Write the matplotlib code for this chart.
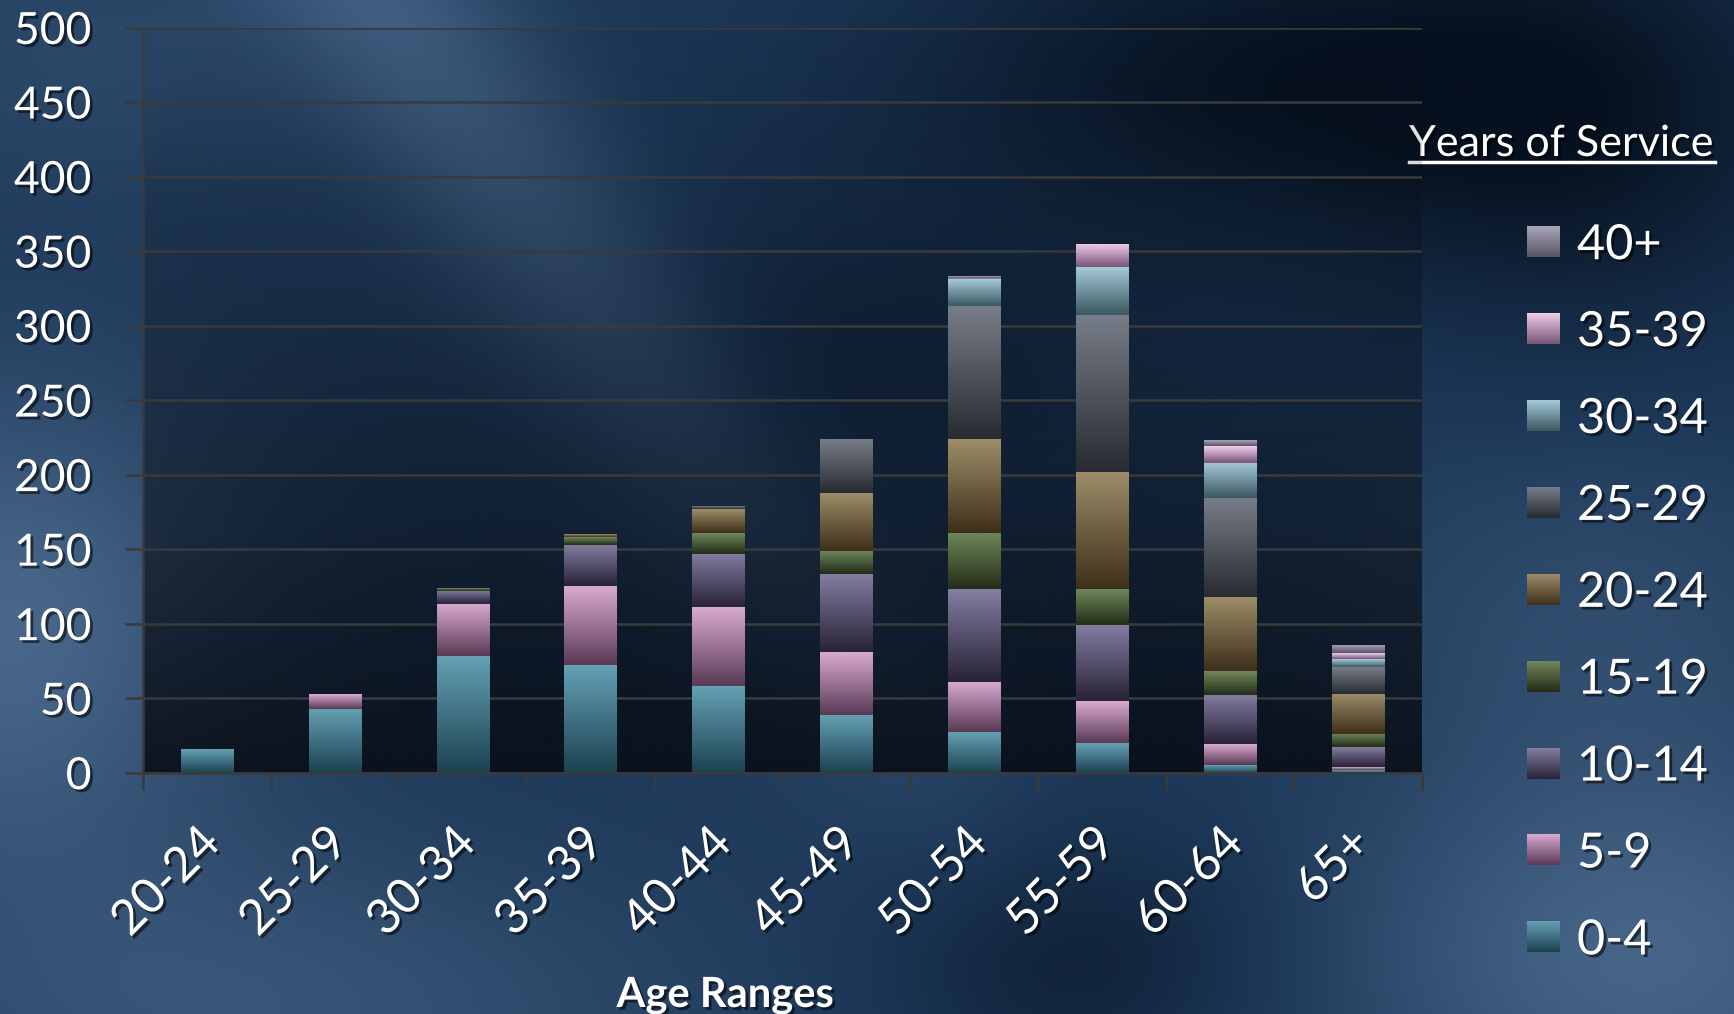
import matplotlib
matplotlib.use("Agg")
import matplotlib.pyplot as plt
import matplotlib.patheffects as pe
import matplotlib.transforms as mtransforms
import numpy as np
from matplotlib.colors import to_rgb

# ---- data -------------------------------------------------------------
age_ranges = ["20-24", "25-29", "30-34", "35-39", "40-44",
              "45-49", "50-54", "55-59", "60-64", "65+"]
service_groups = ["0-4", "5-9", "10-14", "15-19", "20-24",
                  "25-29", "30-34", "35-39", "40+"]

yos_0_4 = [16, 43, 78, 72, 58, 39, 27, 20, 5, 2]
yos_5_9 = [0, 10, 35, 53, 53, 42, 34, 28, 14, 2]
yos_10_14 = [0, 0, 9, 28, 36, 52, 62, 51, 33, 13]
yos_15_19 = [0, 0, 2, 5, 14, 16, 38, 24, 16, 9]
yos_20_24 = [0, 0, 0, 2, 16, 39, 63, 79, 50, 27]
yos_25_29 = [0, 0, 0, 0, 2, 36, 89, 105, 66, 18]
yos_30_34 = [0, 0, 0, 0, 0, 0, 18, 32, 24, 5]
yos_35_39 = [0, 0, 0, 0, 0, 0, 1, 16, 11, 4]
yos_40_plus = [0, 0, 0, 0, 0, 0, 1, 0, 4, 6]

series = [yos_0_4, yos_5_9, yos_10_14, yos_15_19, yos_20_24,
          yos_25_29, yos_30_34, yos_35_39, yos_40_plus]

y_ticks = list(range(0, 501, 50))

# (top colour, bottom colour) of each gradient fill
grad_colors = [
    ("#64a0b3", "#1c4251"),
    ("#d9aad1", "#5a3a55"),
    ("#837da1", "#282336"),
    ("#70875b", "#232d17"),
    ("#9d8d69", "#3e301b"),
    ("#777d88", "#282b31"),
    ("#a4cad8", "#3c5861"),
    ("#f1cdec", "#785676"),
    ("#aaa6ba", "#575565"),
]

FONT = "Lato"
shadow = [pe.SimplePatchShadow(offset=(2, -2), shadow_rgbFace="black",
                               alpha=0.55), pe.Normal()]


def gradient(top, bottom, n=64):
    t = np.linspace(0, 1, n)[:, None]
    c0 = np.array(to_rgb(top))
    c1 = np.array(to_rgb(bottom))
    return (c0 * (1 - t) + c1 * t).reshape(n, 1, 3)


def blob(X, Y, cx, cy, sx, sy):
    return np.exp(-((X - cx) ** 2 / sx + (Y - cy) ** 2 / sy))


W, H = 1734, 1014
fig = plt.figure(figsize=(W / 100, H / 100), dpi=100)

# ---- background -------------------------------------------------------
bg = fig.add_axes([0, 0, 1, 1])
bg.axis("off")
X, Y = np.meshgrid(np.linspace(0, 1, 434), np.linspace(0, 1, 254))
band = np.exp(-((X - (0.22 + 0.4 * Y)) ** 2) / 0.006) * np.clip(1.1 - Y, 0, 1)
tone = (0.55 * band
        + 0.75 * blob(X, Y, 0.0, 0.62, 0.02, 0.06)
        + 0.45 * blob(X, Y, 0.15, 1.0, 0.06, 0.03)
        + 0.70 * blob(X, Y, 0.95, 0.95, 0.03, 0.04)
        + 0.30 * blob(X, Y, 0.92, 0.6, 0.02, 0.04)
        + 0.25 * blob(X, Y, 0.05, 0.05, 0.02, 0.02)
        - 0.85 * blob(X, Y, 0.72, 0.08, 0.04, 0.03)
        - 0.70 * blob(X, Y, 0.92, 0.12, 0.02, 0.05)
        - 0.60 * blob(X, Y, 0.62, 0.95, 0.01, 0.015)
        - 0.35 * blob(X, Y, 0.5, 0.35, 0.02, 0.02) * (1 - band))
tone = np.clip(tone, -1, 1)[..., None]
mid = np.array(to_rgb("#1d3858"))
lite = np.array(to_rgb("#56769a"))
dark = np.array(to_rgb("#06111f"))
img = np.where(tone >= 0, mid + (lite - mid) * tone, mid + (mid - dark) * tone)
bg.imshow(img, extent=(0, W, H, 0), aspect="auto",
          interpolation="bicubic", zorder=0)

# ---- chart ------------------------------------------------------------
ax = fig.add_axes([143 / W, 1 - 772.7 / H, (1422 - 143) / W,
                   (772.7 - 27.5) / H])
ax.set_facecolor("none")
shade = np.zeros((64, 1, 4))
shade[..., :3] = to_rgb("#070b12")
shade[:, 0, 3] = 0.05 + 0.8 * np.linspace(0, 1, 64) ** 1.2
ax.imshow(shade, extent=(0, 1, 0, 1), transform=ax.transAxes,
          aspect="auto", interpolation="bilinear", zorder=0)

x = np.arange(len(age_ranges))
bottoms = np.zeros(len(age_ranges))
for vals, (c_top, c_bot) in zip(series, grad_colors):
    bars = ax.bar(x, vals, bottom=bottoms, width=0.41, color="none",
                  linewidth=0, zorder=2)
    for patch in bars:
        if patch.get_height() <= 0:
            continue
        x0, y0 = patch.get_x(), patch.get_y()
        im = ax.imshow(gradient(c_top, c_bot),
                       extent=(x0, x0 + patch.get_width(), y0,
                               y0 + patch.get_height()),
                       aspect="auto", interpolation="bilinear", zorder=2)
        im.set_clip_path(patch)
    bottoms += np.array(vals)

ax.set_xlim(-0.5, len(age_ranges) - 0.5)
ax.set_ylim(0, 500)

grid_col = "#3a3a3a"
ax.set_axisbelow(True)
ax.yaxis.grid(True, color=grid_col, linewidth=1.8)
for side in ("top", "right"):
    ax.spines[side].set_visible(False)
for side in ("left", "bottom"):
    ax.spines[side].set_color(grid_col)
    ax.spines[side].set_linewidth(1.8)

ax.set_yticks(y_ticks)
ax.set_yticklabels([str(v) for v in y_ticks], fontsize=32, family=FONT,
                   color="white")
ax.tick_params(axis="y", length=13, width=1.8, color=grid_col, pad=24)

ax.set_xticks(x)
ax.set_xticks(np.arange(-0.5, len(age_ranges)), minor=True)
ax.tick_params(axis="x", which="major", length=0, pad=34)
ax.tick_params(axis="x", which="minor", length=12, width=1.8,
               color=grid_col)
ax.set_xticklabels(age_ranges, fontsize=35, family=FONT, color="white",
                   rotation=45, ha="right", va="top",
                   rotation_mode="anchor")
offset = mtransforms.ScaledTranslation(-0.10, 0, fig.dpi_scale_trans)
for lab in ax.get_xticklabels():
    lab.set_transform(lab.get_transform() + offset)
for lab in ax.get_xticklabels() + ax.get_yticklabels():
    lab.set_path_effects(shadow)

fig.text(725 / W, 1 - 1007 / H, "Age Ranges", fontsize=30,
         fontweight="bold", family=FONT, color="white", ha="center",
         va="baseline", path_effects=shadow)

# ---- legend -----------------------------------------------------------
bg.text(1409, 156, "Years of Service", fontsize=31, family=FONT,
        color="white", ha="left", va="baseline", path_effects=shadow,
        zorder=5)
bg.plot([1409, 1715], [162, 162], color="white", lw=2.5, zorder=5)

for i, name in enumerate(reversed(service_groups)):
    c_top, c_bot = grad_colors[len(service_groups) - 1 - i]
    yc = 241.7 + 86.9 * i
    bg.imshow(gradient(c_top, c_bot), extent=(1527, 1560, yc + 15.5,
                                              yc - 15.5),
              aspect="auto", interpolation="bilinear", zorder=5)
    bg.text(1577, yc + 17.5, name, fontsize=35, family=FONT,
            color="white", ha="left", va="baseline",
            path_effects=shadow, zorder=5)
bg.set_xlim(0, W)
bg.set_ylim(H, 0)

fig.savefig("out.png", dpi=100)
